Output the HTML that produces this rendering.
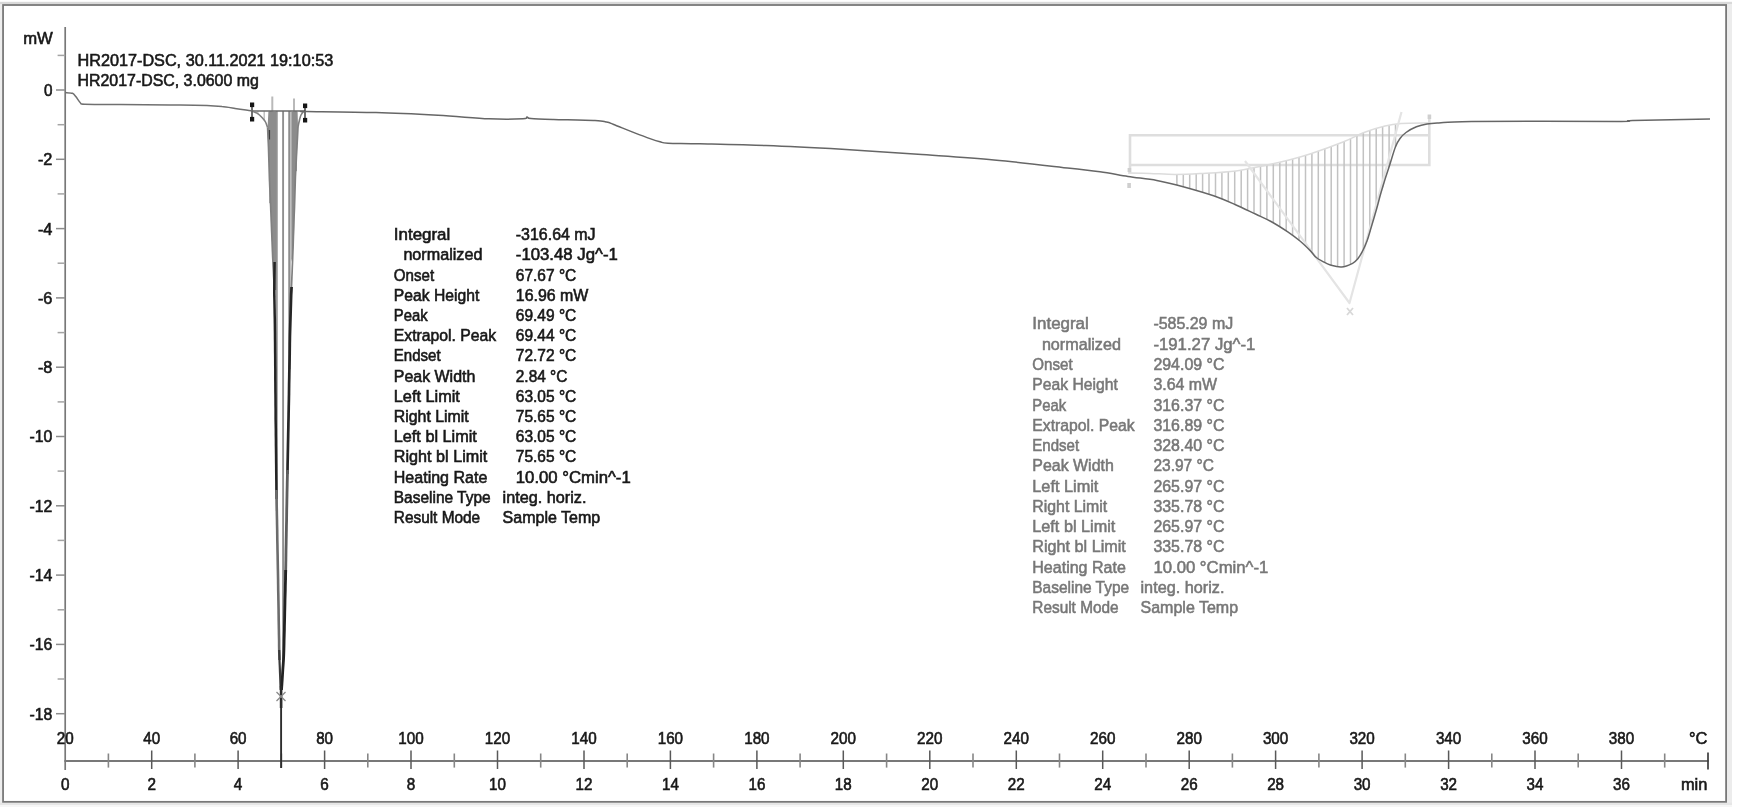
<!DOCTYPE html>
<html lang="en">
<head>
<meta charset="utf-8">
<title>HR2017-DSC</title>
<style>
html,body{margin:0;padding:0;background:#fff;}
body{width:1737px;height:810px;overflow:hidden;}
svg{display:block;filter:blur(0.4px);}
svg text{font-family:"Liberation Sans",sans-serif;font-size:16.4px;fill:#181818;stroke:#181818;stroke-width:0.6px;}
svg text.g{fill:#777;stroke:#777;stroke-width:0.55px;}
</style>
</head>
<body>
<svg width="1737" height="810" viewBox="0 0 1737 810">
<g id="chart">
<rect x="0" y="1.8" width="1732" height="2.3" fill="#d9d9d9"/>
<rect x="0" y="4" width="2.2" height="801" fill="#eeeeee"/>
<rect x="1727" y="4" width="5" height="801" fill="#ececec"/>
<rect x="0" y="802.8" width="1732" height="2.2" fill="#e6e6e6"/>
<rect x="0" y="805" width="1732" height="2" fill="#f6f6f6"/>
<rect x="3.05" y="5" width="1723.05" height="796.85" fill="#fff" stroke="#787878" stroke-width="1.8"/>
<line x1="65.2" y1="27" x2="65.2" y2="770" stroke="#787878" stroke-width="1.7"/>
<line x1="64.4" y1="761.0" x2="1708.6" y2="761.0" stroke="#787878" stroke-width="1.9"/>
<line x1="56" y1="90.0" x2="65.2" y2="90.0" stroke="#8c8c8c" stroke-width="1.5"/>
<line x1="56" y1="159.3" x2="65.2" y2="159.3" stroke="#8c8c8c" stroke-width="1.5"/>
<line x1="56" y1="228.6" x2="65.2" y2="228.6" stroke="#8c8c8c" stroke-width="1.5"/>
<line x1="56" y1="297.9" x2="65.2" y2="297.9" stroke="#8c8c8c" stroke-width="1.5"/>
<line x1="56" y1="367.2" x2="65.2" y2="367.2" stroke="#8c8c8c" stroke-width="1.5"/>
<line x1="56" y1="436.5" x2="65.2" y2="436.5" stroke="#8c8c8c" stroke-width="1.5"/>
<line x1="56" y1="505.8" x2="65.2" y2="505.8" stroke="#8c8c8c" stroke-width="1.5"/>
<line x1="56" y1="575.1" x2="65.2" y2="575.1" stroke="#8c8c8c" stroke-width="1.5"/>
<line x1="56" y1="644.4" x2="65.2" y2="644.4" stroke="#8c8c8c" stroke-width="1.5"/>
<line x1="56" y1="713.7" x2="65.2" y2="713.7" stroke="#8c8c8c" stroke-width="1.5"/>
<line x1="57.6" y1="55.4" x2="65.2" y2="55.4" stroke="#a4a4a4" stroke-width="1.5"/>
<line x1="57.6" y1="124.7" x2="65.2" y2="124.7" stroke="#a4a4a4" stroke-width="1.5"/>
<line x1="57.6" y1="193.9" x2="65.2" y2="193.9" stroke="#a4a4a4" stroke-width="1.5"/>
<line x1="57.6" y1="263.2" x2="65.2" y2="263.2" stroke="#a4a4a4" stroke-width="1.5"/>
<line x1="57.6" y1="332.6" x2="65.2" y2="332.6" stroke="#a4a4a4" stroke-width="1.5"/>
<line x1="57.6" y1="401.9" x2="65.2" y2="401.9" stroke="#a4a4a4" stroke-width="1.5"/>
<line x1="57.6" y1="471.1" x2="65.2" y2="471.1" stroke="#a4a4a4" stroke-width="1.5"/>
<line x1="57.6" y1="540.4" x2="65.2" y2="540.4" stroke="#a4a4a4" stroke-width="1.5"/>
<line x1="57.6" y1="609.8" x2="65.2" y2="609.8" stroke="#a4a4a4" stroke-width="1.5"/>
<line x1="57.6" y1="679.0" x2="65.2" y2="679.0" stroke="#a4a4a4" stroke-width="1.5"/>
<line x1="108.4" y1="753.5" x2="108.4" y2="767.6" stroke="#868686" stroke-width="1.6"/>
<line x1="151.7" y1="750.5" x2="151.7" y2="769" stroke="#585858" stroke-width="1.5"/>
<line x1="194.9" y1="753.5" x2="194.9" y2="767.6" stroke="#868686" stroke-width="1.6"/>
<line x1="238.1" y1="750.5" x2="238.1" y2="769" stroke="#585858" stroke-width="1.5"/>
<line x1="281.4" y1="753.5" x2="281.4" y2="767.6" stroke="#868686" stroke-width="1.6"/>
<line x1="324.6" y1="750.5" x2="324.6" y2="769" stroke="#585858" stroke-width="1.5"/>
<line x1="367.8" y1="753.5" x2="367.8" y2="767.6" stroke="#868686" stroke-width="1.6"/>
<line x1="411.0" y1="750.5" x2="411.0" y2="769" stroke="#585858" stroke-width="1.5"/>
<line x1="454.3" y1="753.5" x2="454.3" y2="767.6" stroke="#868686" stroke-width="1.6"/>
<line x1="497.5" y1="750.5" x2="497.5" y2="769" stroke="#585858" stroke-width="1.5"/>
<line x1="540.7" y1="753.5" x2="540.7" y2="767.6" stroke="#868686" stroke-width="1.6"/>
<line x1="584.0" y1="750.5" x2="584.0" y2="769" stroke="#585858" stroke-width="1.5"/>
<line x1="627.2" y1="753.5" x2="627.2" y2="767.6" stroke="#868686" stroke-width="1.6"/>
<line x1="670.4" y1="750.5" x2="670.4" y2="769" stroke="#585858" stroke-width="1.5"/>
<line x1="713.6" y1="753.5" x2="713.6" y2="767.6" stroke="#868686" stroke-width="1.6"/>
<line x1="756.9" y1="750.5" x2="756.9" y2="769" stroke="#585858" stroke-width="1.5"/>
<line x1="800.1" y1="753.5" x2="800.1" y2="767.6" stroke="#868686" stroke-width="1.6"/>
<line x1="843.3" y1="750.5" x2="843.3" y2="769" stroke="#585858" stroke-width="1.5"/>
<line x1="886.6" y1="753.5" x2="886.6" y2="767.6" stroke="#868686" stroke-width="1.6"/>
<line x1="929.8" y1="750.5" x2="929.8" y2="769" stroke="#585858" stroke-width="1.5"/>
<line x1="973.0" y1="753.5" x2="973.0" y2="767.6" stroke="#868686" stroke-width="1.6"/>
<line x1="1016.3" y1="750.5" x2="1016.3" y2="769" stroke="#585858" stroke-width="1.5"/>
<line x1="1059.5" y1="753.5" x2="1059.5" y2="767.6" stroke="#868686" stroke-width="1.6"/>
<line x1="1102.7" y1="750.5" x2="1102.7" y2="769" stroke="#585858" stroke-width="1.5"/>
<line x1="1146.0" y1="753.5" x2="1146.0" y2="767.6" stroke="#868686" stroke-width="1.6"/>
<line x1="1189.2" y1="750.5" x2="1189.2" y2="769" stroke="#585858" stroke-width="1.5"/>
<line x1="1232.4" y1="753.5" x2="1232.4" y2="767.6" stroke="#868686" stroke-width="1.6"/>
<line x1="1275.6" y1="750.5" x2="1275.6" y2="769" stroke="#585858" stroke-width="1.5"/>
<line x1="1318.9" y1="753.5" x2="1318.9" y2="767.6" stroke="#868686" stroke-width="1.6"/>
<line x1="1362.1" y1="750.5" x2="1362.1" y2="769" stroke="#585858" stroke-width="1.5"/>
<line x1="1405.3" y1="753.5" x2="1405.3" y2="767.6" stroke="#868686" stroke-width="1.6"/>
<line x1="1448.6" y1="750.5" x2="1448.6" y2="769" stroke="#585858" stroke-width="1.5"/>
<line x1="1491.8" y1="753.5" x2="1491.8" y2="767.6" stroke="#868686" stroke-width="1.6"/>
<line x1="1535.0" y1="750.5" x2="1535.0" y2="769" stroke="#585858" stroke-width="1.5"/>
<line x1="1578.2" y1="753.5" x2="1578.2" y2="767.6" stroke="#868686" stroke-width="1.6"/>
<line x1="1621.5" y1="750.5" x2="1621.5" y2="769" stroke="#585858" stroke-width="1.5"/>
<line x1="1664.7" y1="753.5" x2="1664.7" y2="767.6" stroke="#868686" stroke-width="1.6"/>
<line x1="1708" y1="752.5" x2="1708" y2="769.5" stroke="#3c3c3c" stroke-width="1.7"/>
<path d="M1130 173 V135.2 H1429.3 M1130 165 H1429.3 V116" fill="none" stroke="#dedede" stroke-width="2.6"/>
<path d="M1176.9 174.4V185.2M1183.3 174.2V186.8M1189.7 174.0V188.6M1196.2 173.7V190.6M1202.6 173.4V192.5M1209.0 172.9V194.4M1215.5 172.5V196.6M1221.9 172.0V199.2M1228.3 171.6V201.8M1234.7 171.1V204.4M1241.2 170.0V207.4M1247.6 168.8V210.4M1254.0 167.5V213.4M1260.5 166.3V216.4M1266.9 165.0V219.5M1273.3 163.6V222.9M1279.8 162.1V226.9M1286.2 160.6V230.9M1292.6 159.0V235.5M1299.0 157.1V240.3M1305.5 155.2V246.1M1311.9 153.4V252.6M1318.3 151.0V258.7M1324.8 148.7V262.4M1331.2 146.3V265.1M1337.6 144.0V266.3M1344.1 141.5V266.1M1350.5 138.6V264.0M1356.9 135.7V259.5M1363.3 132.8V249.2M1369.8 130.7V232.0M1376.2 128.7V210.3M1382.6 126.7V187.3M1389.1 125.4V167.0M1395.5 124.4V146.8" fill="none" stroke="#c2c2c2" stroke-width="1.5"/>
<path d="M1128.0 173.0 C1131.7 173.1 1142.2 173.2 1150.0 173.4 C1157.8 173.7 1166.7 174.5 1175.0 174.5 C1183.3 174.5 1189.8 174.2 1200.0 173.6 C1210.2 173.0 1224.8 172.4 1236.0 171.0 C1247.2 169.6 1258.2 166.8 1267.0 165.0 C1275.8 163.2 1281.6 161.9 1289.0 160.0 C1296.4 158.1 1302.5 156.5 1311.5 153.5 C1320.5 150.5 1334.2 145.5 1343.0 142.0 C1351.8 138.5 1357.0 135.2 1364.0 132.5 C1371.0 129.8 1378.8 127.5 1385.0 126.0 C1391.2 124.5 1393.7 124.1 1401.0 123.6 C1408.3 123.1 1424.3 123.1 1429.0 123.0" fill="none" stroke="#dcdcdc" stroke-width="1.5"/>
<path d="M1245 161 L1349.5 303 L1401.5 112" fill="none" stroke="#e4e4e4" stroke-width="2.2" stroke-linejoin="round"/>
<path d="M1347 308 l6 7 m0 -7 l-6 7" fill="none" stroke="#d8d8d8" stroke-width="1.8"/>
<rect x="1127.3" y="183" width="3.6" height="5" fill="#cfcfcf"/>
<rect x="1127.6" y="168" width="3.6" height="4" fill="#cfcfcf"/>
<rect x="1427.6" y="114.5" width="3.6" height="4.5" fill="#cfcfcf"/>
<line x1="272.3" y1="96.5" x2="272.3" y2="112" stroke="#b9b9b9" stroke-width="2"/>
<line x1="294" y1="98.5" x2="294" y2="112" stroke="#b9b9b9" stroke-width="2"/>
<line x1="257.9" y1="111" x2="257.9" y2="114.0" stroke="#c8c8c8" stroke-width="1.2"/>
<line x1="264.2" y1="111" x2="264.2" y2="120.3" stroke="#bdbdbd" stroke-width="1.4"/>
<line x1="270.5" y1="111" x2="270.5" y2="203.2" stroke="#8f8f8f" stroke-width="2.4"/>
<line x1="276.8" y1="111" x2="276.8" y2="511.0" stroke="#9a9a9a" stroke-width="2.0"/>
<line x1="283.1" y1="111" x2="283.1" y2="665.7" stroke="#8f8f8f" stroke-width="1.9"/>
<line x1="289.4" y1="111" x2="289.4" y2="369.3" stroke="#8c8c8c" stroke-width="2.3"/>
<line x1="295.7" y1="111" x2="295.7" y2="171.2" stroke="#8f8f8f" stroke-width="2.4"/>
<line x1="302.0" y1="111" x2="302.0" y2="113.6" stroke="#c4c4c4" stroke-width="1.2"/>
<path d="M267.6 127.5 L268.6 150.0 L269.3 175.0 L271.0 215.0 L272.6 255.0 L274.3 290.0 L276.6 290.0 L276.6 111.5 L268.4 111.5Z" fill="#8c8c8c"/>
<path d="M291.3 111.5 L291.3 262.0 L292.8 255.0 L294.2 215.0 L295.5 175.0 L296.8 150.0 L298.0 127.0 L297.6 111.5Z" fill="#8c8c8c"/>
<line x1="269.3" y1="130" x2="269.3" y2="139.5" stroke="#3c3c3c" stroke-width="1.6"/>
<line x1="252" y1="111" x2="305" y2="111" stroke="#6a6a6a" stroke-width="1.6"/>
<path d="M252.0 111.0 C252.8 111.4 255.3 112.1 257.0 113.2 C258.7 114.3 260.6 116.0 262.0 117.5 C263.4 119.0 264.6 120.3 265.5 122.0 C266.4 123.7 267.2 126.6 267.6 127.5" fill="none" stroke="#808080" stroke-width="1.6"/>
<path d="M298.0 127.0 C298.2 125.8 299.0 122.0 299.5 120.0 C300.0 118.0 300.3 116.4 301.0 115.0 C301.7 113.6 303.1 112.1 303.5 111.5" fill="none" stroke="#808080" stroke-width="1.6"/>
<path d="M267.6 127.5 C267.7 129.2 267.9 134.2 268.0 137.5 C268.2 140.8 268.4 144.2 268.5 147.5 C268.6 150.8 268.7 154.2 268.8 157.5 C268.9 160.8 269.0 164.2 269.1 167.5 C269.2 170.8 269.3 174.2 269.4 177.5 C269.5 180.8 269.7 184.2 269.8 187.5 C270.0 190.8 270.1 194.2 270.3 197.5 C270.4 200.8 270.5 204.2 270.7 207.5 C270.8 210.8 271.0 214.2 271.1 217.5 C271.2 220.8 271.4 224.2 271.5 227.5 C271.6 230.8 271.8 234.2 271.9 237.5 C272.0 240.8 272.2 244.2 272.3 247.5 C272.4 250.8 272.6 254.2 272.7 257.5 C272.9 260.8 273.0 264.2 273.2 267.5 C273.4 270.8 273.5 274.2 273.7 277.5 C273.9 280.8 274.1 284.2 274.2 287.5 C274.3 290.8 274.4 295.8 274.4 297.5" fill="none" stroke="#808080" stroke-width="1.7"/>
<path d="M298.0 127.0 C297.9 128.7 297.7 133.7 297.5 137.0 C297.3 140.3 297.1 143.7 297.0 147.0 C296.8 150.3 296.6 153.7 296.4 157.0 C296.3 160.3 296.1 163.7 295.9 167.0 C295.7 170.3 295.6 173.7 295.4 177.0 C295.3 180.3 295.2 183.7 295.1 187.0 C295.0 190.3 294.9 193.7 294.8 197.0 C294.7 200.3 294.6 203.7 294.5 207.0 C294.4 210.3 294.2 213.7 294.1 217.0 C294.0 220.3 293.9 223.7 293.8 227.0 C293.7 230.3 293.5 233.7 293.4 237.0 C293.3 240.3 293.2 243.7 293.1 247.0 C293.0 250.3 292.8 253.7 292.7 257.0 C292.6 260.3 292.5 263.7 292.3 267.0 C292.2 270.3 292.1 273.7 291.9 277.0 C291.8 280.3 291.6 283.7 291.5 287.0 C291.4 290.3 291.2 295.3 291.1 297.0" fill="none" stroke="#808080" stroke-width="1.7"/>
<path d="M274.6 262.0 C274.5 266.5 274.3 282.8 274.3 289.0 C274.2 295.2 274.4 295.7 274.4 299.0 C274.5 302.3 274.5 305.7 274.6 309.0 C274.6 312.3 274.7 315.7 274.8 319.0 C274.8 322.3 274.9 325.7 274.9 329.0 C275.0 332.3 275.0 335.7 275.0 339.0 C275.1 342.3 275.1 345.7 275.1 349.0 C275.1 352.3 275.2 355.7 275.2 359.0 C275.2 362.3 275.2 365.7 275.3 369.0 C275.3 372.3 275.3 375.7 275.3 379.0 C275.4 382.3 275.4 385.7 275.4 389.0 C275.4 392.3 275.5 395.7 275.5 399.0 C275.5 402.3 275.5 405.7 275.6 409.0 C275.6 412.3 275.6 415.7 275.6 419.0 C275.7 422.3 275.7 425.7 275.8 429.0 C275.8 432.3 275.8 435.7 275.9 439.0 C275.9 442.3 275.9 445.7 276.0 449.0 C276.0 452.3 276.1 455.7 276.1 459.0 C276.1 462.3 276.2 465.7 276.2 469.0 C276.2 472.3 276.3 475.7 276.3 479.0 C276.4 482.3 276.4 485.7 276.4 489.0 C276.5 492.3 276.6 497.3 276.6 499.0" fill="none" stroke="#242424" stroke-width="2.5"/>
<path d="M276.4 490.0 C276.5 491.7 276.5 496.7 276.6 500.0 C276.6 503.3 276.7 506.7 276.8 510.0 C276.8 513.3 276.9 516.7 277.0 520.0 C277.0 523.3 277.1 526.7 277.2 530.0 C277.2 533.3 277.3 536.7 277.3 540.0 C277.4 543.3 277.5 546.7 277.5 550.0 C277.6 553.3 277.7 556.7 277.7 560.0 C277.8 563.3 277.8 566.7 277.9 570.0 C278.0 573.3 278.0 576.7 278.1 580.0 C278.1 583.3 278.2 586.7 278.2 590.0 C278.3 593.3 278.4 596.7 278.4 600.0 C278.5 603.3 278.5 606.7 278.6 610.0 C278.6 613.3 278.7 616.7 278.7 620.0 C278.8 623.3 278.8 626.7 278.9 630.0 C278.9 633.3 279.0 636.7 279.1 640.0 C279.1 643.3 279.1 646.7 279.2 650.0 C279.3 653.3 279.5 658.3 279.5 660.0" fill="none" stroke="#6c6c6c" stroke-width="2.6"/>
<path d="M279.2 650.0 C279.3 651.7 279.4 656.7 279.5 660.0 C279.6 663.3 279.8 666.7 279.9 670.0 C280.0 673.3 280.2 676.7 280.3 680.0 C280.4 683.3 280.6 688.3 280.7 690.0" fill="none" stroke="#3a3a3a" stroke-width="2.2"/>
<path d="M291.6 287.0 C291.5 288.2 291.4 291.2 291.2 294.0 C291.1 296.8 291.0 300.7 290.9 304.0 C290.8 307.3 290.7 310.7 290.6 314.0 C290.5 317.3 290.4 320.7 290.3 324.0 C290.2 327.3 290.1 330.7 290.0 334.0 C289.9 337.3 289.9 340.7 289.8 344.0 C289.8 347.3 289.7 350.7 289.7 354.0 C289.6 357.3 289.6 360.7 289.5 364.0 C289.4 367.3 289.4 370.7 289.3 374.0 C289.3 377.3 289.2 380.7 289.1 384.0 C289.1 387.3 289.0 390.7 289.0 394.0 C288.9 397.3 288.9 400.7 288.8 404.0 C288.7 407.3 288.7 410.7 288.6 414.0 C288.6 417.3 288.5 420.7 288.4 424.0 C288.4 427.3 288.3 430.7 288.2 434.0 C288.2 437.3 288.1 440.7 288.0 444.0 C288.0 447.3 287.9 450.7 287.8 454.0 C287.8 457.3 287.7 460.7 287.6 464.0 C287.6 467.3 287.5 472.3 287.4 474.0" fill="none" stroke="#262626" stroke-width="2.7"/>
<path d="M287.5 470.0 C287.5 471.7 287.4 476.7 287.3 480.0 C287.2 483.3 287.2 486.7 287.1 490.0 C287.0 493.3 287.0 496.7 286.9 500.0 C286.9 503.3 286.8 506.7 286.7 510.0 C286.7 513.3 286.6 516.7 286.6 520.0 C286.5 523.3 286.4 526.7 286.4 530.0 C286.3 533.3 286.3 536.7 286.2 540.0 C286.2 543.3 286.1 546.7 286.0 550.0 C286.0 553.3 285.9 556.7 285.9 560.0 C285.8 563.3 285.8 566.7 285.7 570.0 C285.6 573.3 285.5 578.3 285.5 580.0" fill="none" stroke="#5e5e5e" stroke-width="2.8"/>
<path d="M285.7 570.0 C285.7 571.7 285.6 576.7 285.5 580.0 C285.4 583.3 285.3 586.7 285.3 590.0 C285.2 593.3 285.1 596.7 285.0 600.0 C285.0 603.3 284.9 606.7 284.8 610.0 C284.7 613.3 284.7 616.7 284.6 620.0 C284.5 623.3 284.4 626.7 284.4 630.0 C284.3 633.3 284.2 636.7 284.1 640.0 C284.1 643.3 284.0 646.7 283.9 650.0 C283.8 653.3 283.7 656.7 283.5 660.0 C283.3 663.3 283.0 666.7 282.8 670.0 C282.6 673.3 282.4 676.7 282.2 680.0 C282.0 683.3 281.6 688.3 281.5 690.0" fill="none" stroke="#222" stroke-width="2.8"/>
<line x1="281.1" y1="686" x2="281.1" y2="708" stroke="#2a2a2a" stroke-width="2.6"/>
<line x1="281.1" y1="700" x2="281.1" y2="768" stroke="#2e2e2e" stroke-width="1.9"/>
<path d="M276.5 692 l9 9 m0 -9 l-9 9" fill="none" stroke="#8a8a8a" stroke-width="1.3"/>
<line x1="252" y1="104.5" x2="252" y2="119.5" stroke="#333" stroke-width="1.4"/>
<rect x="250" y="102.5" width="4.2" height="4.6" fill="#161616"/>
<rect x="250" y="116.9" width="4.2" height="4.6" fill="#161616"/>
<line x1="305" y1="105.5" x2="305" y2="120.5" stroke="#333" stroke-width="1.4"/>
<rect x="303" y="103.5" width="4.2" height="4.6" fill="#161616"/>
<rect x="303" y="117.9" width="4.2" height="4.6" fill="#161616"/>
<path d="M65.2 92.6 C66.1 92.7 71.2 92.8 72.5 93.3 C73.8 93.8 75.1 95.7 76.0 96.8 C76.9 97.9 79.5 102.1 80.5 103.0 C81.5 103.9 79.9 104.1 84.5 104.3 C89.1 104.5 110.0 104.5 120.0 104.6 C130.0 104.7 159.8 104.9 170.0 105.0 C180.2 105.1 200.9 105.2 207.0 105.4 C213.1 105.6 218.7 106.2 222.0 106.6 C225.3 106.9 232.2 108.0 235.0 108.4 C237.8 108.8 243.9 109.7 246.0 110.0 C248.1 110.3 252.2 110.9 253.0 111.0" fill="none" stroke="#707070" stroke-width="1.5"/>
<path d="M303.0 111.5 C303.7 111.5 294.8 111.3 307.0 111.5 C319.2 111.7 354.2 112.0 376.0 112.6 C397.8 113.2 419.2 114.3 438.0 115.3 C456.8 116.3 474.8 118.2 489.0 118.8 C503.2 119.4 516.7 119.1 523.0 118.8 C529.3 118.5 525.7 116.9 527.0 116.9 C528.3 116.9 526.6 118.2 531.0 118.6 C535.4 119.0 542.8 119.2 553.5 119.5 C564.2 119.8 586.2 120.2 595.0 120.6 C603.8 121.0 603.0 121.4 606.0 122.0 C609.0 122.6 608.3 122.4 613.0 124.2 C617.7 126.0 627.8 130.2 634.0 132.6 C640.2 135.0 645.7 137.1 650.0 138.6 C654.3 140.1 657.0 141.0 660.0 141.8 C663.0 142.6 661.3 142.9 668.0 143.2 C674.7 143.5 683.7 143.4 700.0 143.8 C716.3 144.2 742.3 144.7 766.0 145.6 C789.7 146.5 816.7 147.9 842.0 149.3 C867.3 150.8 892.7 152.5 918.0 154.3 C943.3 156.1 968.7 157.6 994.0 159.9 C1019.3 162.2 1052.3 166.3 1070.0 168.3 C1087.7 170.3 1090.3 170.3 1100.0 171.7 C1109.7 173.0 1118.5 174.9 1128.0 176.4 C1137.5 177.9 1147.3 178.6 1156.8 180.4 C1166.3 182.2 1175.5 184.6 1185.0 187.2 C1194.5 189.8 1205.3 192.9 1213.6 195.8 C1221.9 198.7 1227.9 201.4 1235.0 204.5 C1242.1 207.6 1250.0 211.5 1256.0 214.3 C1262.0 217.1 1265.7 218.6 1271.0 221.5 C1276.3 224.4 1283.0 228.7 1287.8 231.9 C1292.6 235.2 1296.3 237.9 1300.0 241.0 C1303.7 244.1 1307.3 247.7 1310.0 250.4 C1312.7 253.1 1313.8 255.4 1316.0 257.3 C1318.2 259.2 1320.6 260.3 1323.0 261.6 C1325.4 262.9 1327.3 264.1 1330.4 265.0 C1333.5 265.9 1337.8 267.3 1341.5 267.0 C1345.2 266.7 1349.8 264.7 1352.6 263.3 C1355.3 261.9 1356.4 260.4 1358.0 258.5 C1359.6 256.6 1360.5 255.1 1362.0 252.2 C1363.5 249.3 1365.5 245.0 1367.0 241.0 C1368.5 237.0 1369.5 233.0 1371.0 228.0 C1372.5 223.0 1374.4 216.5 1376.0 211.0 C1377.6 205.5 1379.0 199.8 1380.4 194.8 C1381.8 189.8 1383.0 186.0 1384.5 181.0 C1386.0 176.0 1387.9 170.7 1389.7 165.0 C1391.5 159.3 1393.7 151.4 1395.4 147.0 C1397.1 142.6 1398.2 140.9 1400.0 138.5 C1401.8 136.1 1403.3 134.4 1406.0 132.5 C1408.7 130.6 1412.9 128.2 1416.4 126.8 C1419.9 125.4 1423.3 124.6 1427.0 124.0 C1430.7 123.4 1431.3 123.4 1438.8 123.0 C1446.3 122.6 1442.1 121.7 1471.8 121.4 C1501.5 121.1 1590.2 121.6 1617.0 121.4 C1643.8 121.2 1617.3 120.9 1632.8 120.5 C1648.3 120.1 1697.1 119.3 1710.0 119.1" fill="none" stroke="#666" stroke-width="1.5" stroke-linejoin="round"/>
</g>
<g id="labels">
<text x="23.2" y="44.2" textLength="29.6" lengthAdjust="spacingAndGlyphs">mW</text>
<text x="77.5" y="65.9" textLength="255.7" lengthAdjust="spacingAndGlyphs">HR2017-DSC, 30.11.2021 19:10:53</text>
<text x="77.5" y="85.6" textLength="181.3" lengthAdjust="spacingAndGlyphs">HR2017-DSC, 3.0600 mg</text>
<text x="52.4" y="95.9" text-anchor="end" textLength="8.5" lengthAdjust="spacingAndGlyphs">0</text>
<text x="52.4" y="165.2" text-anchor="end" textLength="14.5" lengthAdjust="spacingAndGlyphs">-2</text>
<text x="52.4" y="234.5" text-anchor="end" textLength="14.5" lengthAdjust="spacingAndGlyphs">-4</text>
<text x="52.4" y="303.8" text-anchor="end" textLength="14.5" lengthAdjust="spacingAndGlyphs">-6</text>
<text x="52.4" y="373.1" text-anchor="end" textLength="14.5" lengthAdjust="spacingAndGlyphs">-8</text>
<text x="52.4" y="442.4" text-anchor="end" textLength="22.9" lengthAdjust="spacingAndGlyphs">-10</text>
<text x="52.4" y="511.7" text-anchor="end" textLength="22.9" lengthAdjust="spacingAndGlyphs">-12</text>
<text x="52.4" y="581.0" text-anchor="end" textLength="22.9" lengthAdjust="spacingAndGlyphs">-14</text>
<text x="52.4" y="650.3" text-anchor="end" textLength="22.9" lengthAdjust="spacingAndGlyphs">-16</text>
<text x="52.4" y="719.6" text-anchor="end" textLength="22.9" lengthAdjust="spacingAndGlyphs">-18</text>
<text x="65.2" y="744.3" text-anchor="middle" textLength="16.9" lengthAdjust="spacingAndGlyphs">20</text>
<text x="65.2" y="790.1" text-anchor="middle" textLength="8.5" lengthAdjust="spacingAndGlyphs">0</text>
<text x="151.7" y="744.3" text-anchor="middle" textLength="16.9" lengthAdjust="spacingAndGlyphs">40</text>
<text x="151.7" y="790.1" text-anchor="middle" textLength="8.5" lengthAdjust="spacingAndGlyphs">2</text>
<text x="238.1" y="744.3" text-anchor="middle" textLength="16.9" lengthAdjust="spacingAndGlyphs">60</text>
<text x="238.1" y="790.1" text-anchor="middle" textLength="8.5" lengthAdjust="spacingAndGlyphs">4</text>
<text x="324.6" y="744.3" text-anchor="middle" textLength="16.9" lengthAdjust="spacingAndGlyphs">80</text>
<text x="324.6" y="790.1" text-anchor="middle" textLength="8.5" lengthAdjust="spacingAndGlyphs">6</text>
<text x="411.0" y="744.3" text-anchor="middle" textLength="25.4" lengthAdjust="spacingAndGlyphs">100</text>
<text x="411.0" y="790.1" text-anchor="middle" textLength="8.5" lengthAdjust="spacingAndGlyphs">8</text>
<text x="497.5" y="744.3" text-anchor="middle" textLength="25.4" lengthAdjust="spacingAndGlyphs">120</text>
<text x="497.5" y="790.1" text-anchor="middle" textLength="16.9" lengthAdjust="spacingAndGlyphs">10</text>
<text x="584.0" y="744.3" text-anchor="middle" textLength="25.4" lengthAdjust="spacingAndGlyphs">140</text>
<text x="584.0" y="790.1" text-anchor="middle" textLength="16.9" lengthAdjust="spacingAndGlyphs">12</text>
<text x="670.4" y="744.3" text-anchor="middle" textLength="25.4" lengthAdjust="spacingAndGlyphs">160</text>
<text x="670.4" y="790.1" text-anchor="middle" textLength="16.9" lengthAdjust="spacingAndGlyphs">14</text>
<text x="756.9" y="744.3" text-anchor="middle" textLength="25.4" lengthAdjust="spacingAndGlyphs">180</text>
<text x="756.9" y="790.1" text-anchor="middle" textLength="16.9" lengthAdjust="spacingAndGlyphs">16</text>
<text x="843.3" y="744.3" text-anchor="middle" textLength="25.4" lengthAdjust="spacingAndGlyphs">200</text>
<text x="843.3" y="790.1" text-anchor="middle" textLength="16.9" lengthAdjust="spacingAndGlyphs">18</text>
<text x="929.8" y="744.3" text-anchor="middle" textLength="25.4" lengthAdjust="spacingAndGlyphs">220</text>
<text x="929.8" y="790.1" text-anchor="middle" textLength="16.9" lengthAdjust="spacingAndGlyphs">20</text>
<text x="1016.3" y="744.3" text-anchor="middle" textLength="25.4" lengthAdjust="spacingAndGlyphs">240</text>
<text x="1016.3" y="790.1" text-anchor="middle" textLength="16.9" lengthAdjust="spacingAndGlyphs">22</text>
<text x="1102.7" y="744.3" text-anchor="middle" textLength="25.4" lengthAdjust="spacingAndGlyphs">260</text>
<text x="1102.7" y="790.1" text-anchor="middle" textLength="16.9" lengthAdjust="spacingAndGlyphs">24</text>
<text x="1189.2" y="744.3" text-anchor="middle" textLength="25.4" lengthAdjust="spacingAndGlyphs">280</text>
<text x="1189.2" y="790.1" text-anchor="middle" textLength="16.9" lengthAdjust="spacingAndGlyphs">26</text>
<text x="1275.6" y="744.3" text-anchor="middle" textLength="25.4" lengthAdjust="spacingAndGlyphs">300</text>
<text x="1275.6" y="790.1" text-anchor="middle" textLength="16.9" lengthAdjust="spacingAndGlyphs">28</text>
<text x="1362.1" y="744.3" text-anchor="middle" textLength="25.4" lengthAdjust="spacingAndGlyphs">320</text>
<text x="1362.1" y="790.1" text-anchor="middle" textLength="16.9" lengthAdjust="spacingAndGlyphs">30</text>
<text x="1448.6" y="744.3" text-anchor="middle" textLength="25.4" lengthAdjust="spacingAndGlyphs">340</text>
<text x="1448.6" y="790.1" text-anchor="middle" textLength="16.9" lengthAdjust="spacingAndGlyphs">32</text>
<text x="1535.0" y="744.3" text-anchor="middle" textLength="25.4" lengthAdjust="spacingAndGlyphs">360</text>
<text x="1535.0" y="790.1" text-anchor="middle" textLength="16.9" lengthAdjust="spacingAndGlyphs">34</text>
<text x="1621.5" y="744.3" text-anchor="middle" textLength="25.4" lengthAdjust="spacingAndGlyphs">380</text>
<text x="1621.5" y="790.1" text-anchor="middle" textLength="16.9" lengthAdjust="spacingAndGlyphs">36</text>
<text x="1707.3" y="744.3" text-anchor="end">°C</text>
<text x="1707.3" y="790.1" text-anchor="end">min</text>
<text x="393.8" y="240.1" textLength="56.5" lengthAdjust="spacingAndGlyphs">Integral</text>
<text x="515.8" y="240.1" textLength="79.8" lengthAdjust="spacingAndGlyphs">-316.64 mJ</text>
<text x="403.4" y="260.3" textLength="79.0" lengthAdjust="spacingAndGlyphs">normalized</text>
<text x="515.8" y="260.3" textLength="102.0" lengthAdjust="spacingAndGlyphs">-103.48 Jg^-1</text>
<text x="393.8" y="280.5" textLength="40.3" lengthAdjust="spacingAndGlyphs">Onset</text>
<text x="515.8" y="280.5" textLength="60.5" lengthAdjust="spacingAndGlyphs">67.67 °C</text>
<text x="393.8" y="300.7" textLength="85.5" lengthAdjust="spacingAndGlyphs">Peak Height</text>
<text x="515.8" y="300.7" textLength="72.6" lengthAdjust="spacingAndGlyphs">16.96 mW</text>
<text x="393.8" y="320.9" textLength="33.9" lengthAdjust="spacingAndGlyphs">Peak</text>
<text x="515.8" y="320.9" textLength="60.5" lengthAdjust="spacingAndGlyphs">69.49 °C</text>
<text x="393.8" y="341.1" textLength="102.4" lengthAdjust="spacingAndGlyphs">Extrapol. Peak</text>
<text x="515.8" y="341.1" textLength="60.5" lengthAdjust="spacingAndGlyphs">69.44 °C</text>
<text x="393.8" y="361.4" textLength="46.8" lengthAdjust="spacingAndGlyphs">Endset</text>
<text x="515.8" y="361.4" textLength="60.5" lengthAdjust="spacingAndGlyphs">72.72 °C</text>
<text x="393.8" y="381.6" textLength="81.5" lengthAdjust="spacingAndGlyphs">Peak Width</text>
<text x="515.8" y="381.6" textLength="51.6" lengthAdjust="spacingAndGlyphs">2.84 °C</text>
<text x="393.8" y="401.8" textLength="66.1" lengthAdjust="spacingAndGlyphs">Left Limit</text>
<text x="515.8" y="401.8" textLength="60.5" lengthAdjust="spacingAndGlyphs">63.05 °C</text>
<text x="393.8" y="422.0" textLength="75.0" lengthAdjust="spacingAndGlyphs">Right Limit</text>
<text x="515.8" y="422.0" textLength="60.5" lengthAdjust="spacingAndGlyphs">75.65 °C</text>
<text x="393.8" y="442.2" textLength="83.0" lengthAdjust="spacingAndGlyphs">Left bl Limit</text>
<text x="515.8" y="442.2" textLength="60.5" lengthAdjust="spacingAndGlyphs">63.05 °C</text>
<text x="393.8" y="462.4" textLength="93.5" lengthAdjust="spacingAndGlyphs">Right bl Limit</text>
<text x="515.8" y="462.4" textLength="60.5" lengthAdjust="spacingAndGlyphs">75.65 °C</text>
<text x="393.8" y="482.6" textLength="93.5" lengthAdjust="spacingAndGlyphs">Heating Rate</text>
<text x="515.8" y="482.6" textLength="114.9" lengthAdjust="spacingAndGlyphs">10.00 °Cmin^-1</text>
<text x="393.8" y="502.8" textLength="96.8" lengthAdjust="spacingAndGlyphs">Baseline Type</text>
<text x="502.6" y="502.8" textLength="83.9" lengthAdjust="spacingAndGlyphs">integ. horiz.</text>
<text x="393.8" y="523.0" textLength="86.3" lengthAdjust="spacingAndGlyphs">Result Mode</text>
<text x="502.6" y="523.0" textLength="97.6" lengthAdjust="spacingAndGlyphs">Sample Temp</text>
<text x="1032.3" y="329.4" textLength="56.5" lengthAdjust="spacingAndGlyphs" class="g">Integral</text>
<text x="1153.4" y="329.4" textLength="79.8" lengthAdjust="spacingAndGlyphs" class="g">-585.29 mJ</text>
<text x="1041.9" y="349.7" textLength="79.0" lengthAdjust="spacingAndGlyphs" class="g">normalized</text>
<text x="1153.4" y="349.7" textLength="102.0" lengthAdjust="spacingAndGlyphs" class="g">-191.27 Jg^-1</text>
<text x="1032.3" y="369.9" textLength="40.3" lengthAdjust="spacingAndGlyphs" class="g">Onset</text>
<text x="1153.4" y="369.9" textLength="71.0" lengthAdjust="spacingAndGlyphs" class="g">294.09 °C</text>
<text x="1032.3" y="390.2" textLength="85.5" lengthAdjust="spacingAndGlyphs" class="g">Peak Height</text>
<text x="1153.4" y="390.2" textLength="63.7" lengthAdjust="spacingAndGlyphs" class="g">3.64 mW</text>
<text x="1032.3" y="410.5" textLength="33.9" lengthAdjust="spacingAndGlyphs" class="g">Peak</text>
<text x="1153.4" y="410.5" textLength="71.0" lengthAdjust="spacingAndGlyphs" class="g">316.37 °C</text>
<text x="1032.3" y="430.8" textLength="102.4" lengthAdjust="spacingAndGlyphs" class="g">Extrapol. Peak</text>
<text x="1153.4" y="430.8" textLength="71.0" lengthAdjust="spacingAndGlyphs" class="g">316.89 °C</text>
<text x="1032.3" y="451.0" textLength="46.8" lengthAdjust="spacingAndGlyphs" class="g">Endset</text>
<text x="1153.4" y="451.0" textLength="71.0" lengthAdjust="spacingAndGlyphs" class="g">328.40 °C</text>
<text x="1032.3" y="471.3" textLength="81.5" lengthAdjust="spacingAndGlyphs" class="g">Peak Width</text>
<text x="1153.4" y="471.3" textLength="60.5" lengthAdjust="spacingAndGlyphs" class="g">23.97 °C</text>
<text x="1032.3" y="491.6" textLength="66.1" lengthAdjust="spacingAndGlyphs" class="g">Left Limit</text>
<text x="1153.4" y="491.6" textLength="71.0" lengthAdjust="spacingAndGlyphs" class="g">265.97 °C</text>
<text x="1032.3" y="511.8" textLength="75.0" lengthAdjust="spacingAndGlyphs" class="g">Right Limit</text>
<text x="1153.4" y="511.8" textLength="71.0" lengthAdjust="spacingAndGlyphs" class="g">335.78 °C</text>
<text x="1032.3" y="532.1" textLength="83.0" lengthAdjust="spacingAndGlyphs" class="g">Left bl Limit</text>
<text x="1153.4" y="532.1" textLength="71.0" lengthAdjust="spacingAndGlyphs" class="g">265.97 °C</text>
<text x="1032.3" y="552.4" textLength="93.5" lengthAdjust="spacingAndGlyphs" class="g">Right bl Limit</text>
<text x="1153.4" y="552.4" textLength="71.0" lengthAdjust="spacingAndGlyphs" class="g">335.78 °C</text>
<text x="1032.3" y="572.6" textLength="93.5" lengthAdjust="spacingAndGlyphs" class="g">Heating Rate</text>
<text x="1153.4" y="572.6" textLength="114.9" lengthAdjust="spacingAndGlyphs" class="g">10.00 °Cmin^-1</text>
<text x="1032.3" y="592.9" textLength="96.8" lengthAdjust="spacingAndGlyphs" class="g">Baseline Type</text>
<text x="1140.5" y="592.9" textLength="83.9" lengthAdjust="spacingAndGlyphs" class="g">integ. horiz.</text>
<text x="1032.3" y="613.2" textLength="86.3" lengthAdjust="spacingAndGlyphs" class="g">Result Mode</text>
<text x="1140.5" y="613.2" textLength="97.6" lengthAdjust="spacingAndGlyphs" class="g">Sample Temp</text>
</g>
</svg>
</body>
</html>
